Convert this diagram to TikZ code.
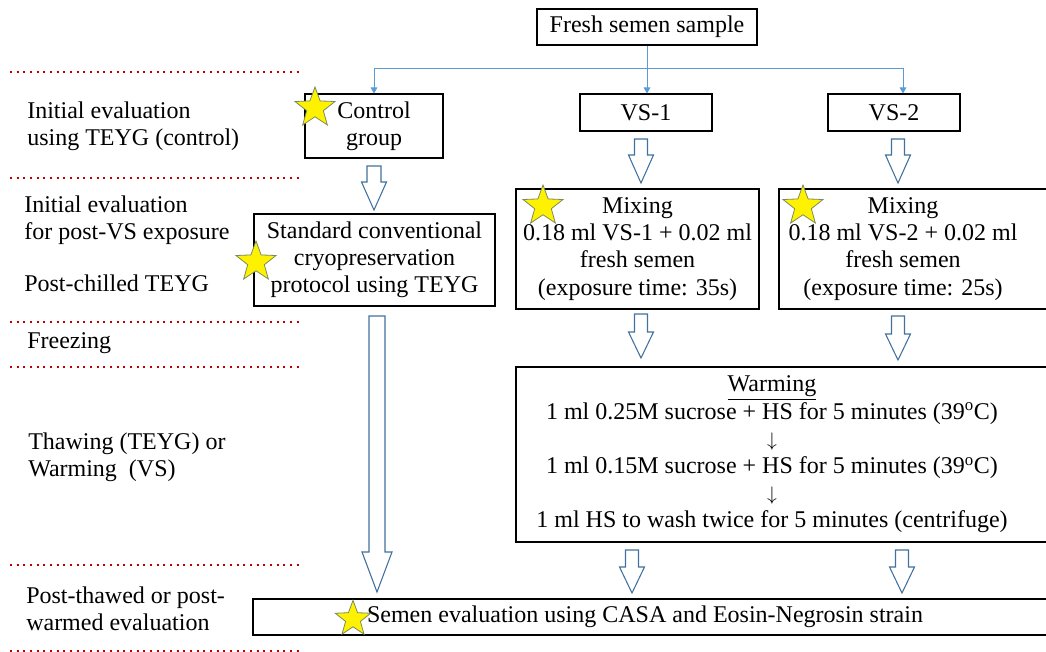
\documentclass[tikz,border=0pt]{standalone}
\usepackage{fontspec}
\setmainfont{Liberation Serif}
\newfontfamily\tnr{Liberation Serif}
\usetikzlibrary{shapes.geometric,arrows.meta}
\definecolor{dotred}{HTML}{C00000}
\definecolor{connblue}{HTML}{5B9BD5}
\definecolor{arrowblue}{HTML}{41719C}
\definecolor{starline}{HTML}{7A8A60}
\newcommand{\hollowarrow}[6]{%
  \draw[harrow] ({#1-#5},#2) -- ({#1+#5},#2) -- ({#1+#5},#3) -- ({#1+#6},#3)
    -- (#1,#4) -- ({#1-#6},#3) -- ({#1-#5},#3) -- cycle;}
\newcommand{\darr}{\scalebox{0.85}{$\downarrow$}}
\begin{document}
\begin{tikzpicture}[x=0.75pt,y=-0.75pt,
  every node/.style={font=\tnr\fontsize{18}{20.4}\selectfont},
  box/.style={draw=black, line width=0.8pt, inner sep=0pt, align=center},
  txt/.style={align=center, inner sep=0pt},
  lbl/.style={align=left, anchor=west, inner sep=0pt},
  sep/.style={dotred, line width=1.6pt, dash pattern=on 1.6pt off 3.4pt},
  conn/.style={connblue, line width=0.75pt, -{Triangle[width=5pt,length=4.5pt]}},
  harrow/.style={draw=arrowblue, fill=white, line width=0.8pt, line join=miter},
  starmark/.style={star, star points=5, star point ratio=2.4, minimum size=31.5pt,
    inner sep=0pt, fill=yellow, draw=starline, line width=0.6pt}]
\useasboundingbox (0,0) rectangle (1046,651);
\clip (0,0) rectangle (1046,651);

% separators
\foreach \yy in {72,178,322,367,565,651}
  \draw[sep] (10,\yy) -- (302,\yy);

% left labels
\node[lbl] (l1) at (27,126.5) {Initial evaluation\\using TEYG (control)};
\node[lbl] (l2) at (24,220.5) {Initial evaluation\\for post-VS exposure};
\node[lbl] (l3) at (24,283) {Post-chilled TEYG};
\node[lbl] (l4) at (27,343) {Freezing};
\node[lbl] (l5) at (28,457.5) {Thawing (TEYG) or\\Warming\ \ (VS)};
\node[lbl] (l6) at (26,608.5) {Post-thawed or post-\\warmed evaluation};

% boxes
\node[box, minimum width=165pt, minimum height=27pt] (fresh) at (647,27) {Fresh semen sample};
\node[box, minimum width=103.5pt, minimum height=48pt] (ctrl) at (374,126) {Control\\group};
\node[box, minimum width=99pt, minimum height=27.75pt] (vs1) at (646,112.5) {VS-1};
\node[box, minimum width=99pt, minimum height=27.75pt] (vs2) at (894,112.5) {VS-2};
\node[box, minimum width=180.75pt, minimum height=69pt] (std) at (374.5,260)
  {Standard conventional\\cryopreservation\\protocol using TEYG};
\node[box, minimum width=182.25pt, minimum height=90pt] (mix1) at (637.5,249)
  {Mixing\\0.18 ml VS-1 + 0.02 ml\\fresh semen\\(exposure time: 35s)};
\node[box, minimum width=204pt, minimum height=90pt] (mix2box) at (915,249) {};
\node[txt] (mix2) at (903,249)
  {Mixing\\0.18 ml VS-2 + 0.02 ml\\fresh semen\\(exposure time: 25s)};
\node[box, minimum width=402pt, minimum height=131.25pt] (warmbox) at (784,454.5) {};
\node[txt] (warm) at (772,454.5)
  {\underline{Warming}\\
   1 ml 0.25M sucrose + HS for 5 minutes (39\textsuperscript{o}C)\\
   \darr\\
   1 ml 0.15M sucrose + HS for 5 minutes (39\textsuperscript{o}C)\\
   \darr\\
   1 ml HS to wash twice for 5 minutes (centrifuge)};
\node[box, minimum width=599.25pt, minimum height=27pt] (evalbox) at (652.5,617) {};
\node[txt] (eval) at (645,617) {Semen evaluation using CASA and Eosin-Negrosin strain};

% blue connectors
\coordinate (hub) at (647,68);
\draw[conn] (fresh.south) -- (fresh.south |- vs1.north);
\draw[conn] (hub) -| (ctrl.north);
\draw[conn] (hub) -| ([xshift=6.75pt]vs2.north);

% hollow block arrows
\hollowarrow{374}{166}{182}{210}{7}{12.5}
\hollowarrow{377}{316}{552}{592}{8}{15}
\hollowarrow{641}{139}{155}{183}{6.5}{12.5}
\hollowarrow{898}{139}{155}{183}{6.5}{12.5}
\hollowarrow{641}{314}{332}{358}{6.5}{12.5}
\hollowarrow{898}{316}{334}{360}{6.5}{12.5}
\hollowarrow{632}{550}{567}{593}{6.5}{12.5}
\hollowarrow{902}{550}{567}{593}{6.5}{12.5}

% stars
\node[starmark] (s1) at (315,108) {};
\node[starmark] (s2) at (256,262) {};
\node[starmark] (s3) at (543,206) {};
\node[starmark] (s4) at (803,206) {};
\node[starmark, minimum size=28pt] (s5) at (353,619) {};
\end{tikzpicture}
\end{document}
